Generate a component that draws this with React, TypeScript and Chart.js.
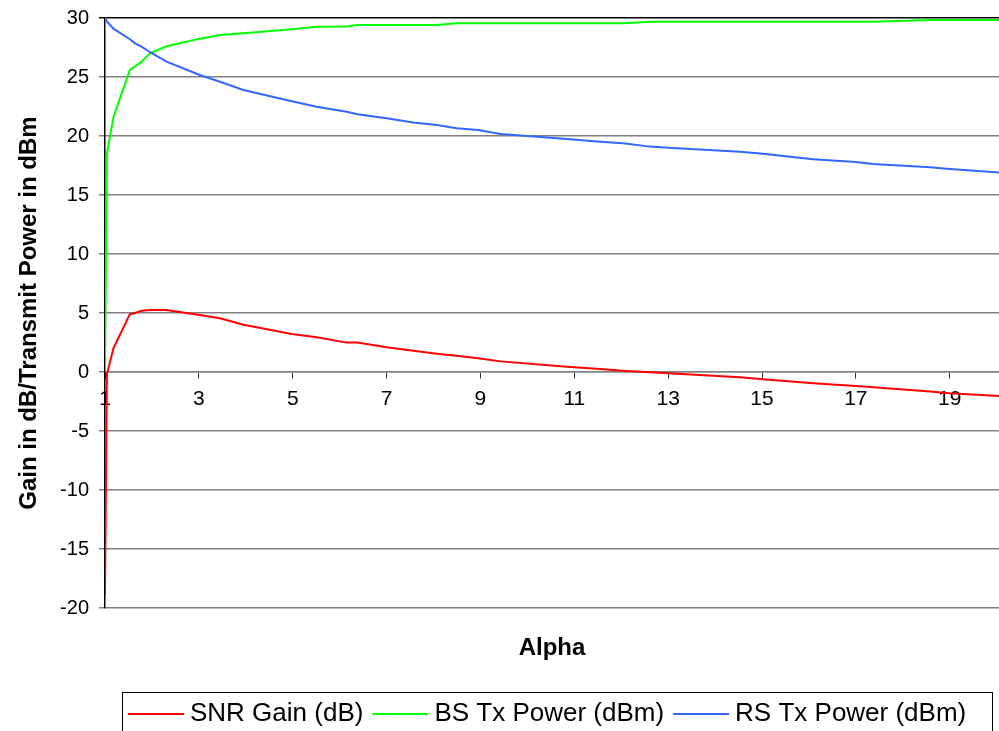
import React, { useEffect, useRef } from 'react';
import { Chart, registerables } from 'chart.js';

Chart.register(...registerables);

// ---- data ----
const alpha = [1.0, 1.04, 1.18, 1.53, 1.64, 1.78, 1.96, 2.31, 3.02, 3.45, 3.95, 4.98, 5.51, 6.15, 6.38, 7.0, 7.57, 8.07, 8.49, 8.95, 9.43, 10.84, 11.55, 12.04, 12.61, 13.0, 14.53, 15.02, 16.09, 17.0, 17.37, 18.58, 19.0, 20.05];
const snrGain = [-18.9, -0.2, 2.0, 4.9, 5.0, 5.2, 5.25, 5.25, 4.83, 4.55, 4.0, 3.22, 2.95, 2.49, 2.49, 2.09, 1.8, 1.55, 1.38, 1.16, 0.9, 0.45, 0.25, 0.1, -0.02, -0.11, -0.45, -0.62, -0.95, -1.19, -1.3, -1.65, -1.8, -2.03];
const bsTxPower = [0, 18.5, 21.6, 25.6, 25.9, 26.3, 27.0, 27.6, 28.25, 28.55, 28.7, 29.05, 29.25, 29.27, 29.4, 29.4, 29.4, 29.4, 29.55, 29.55, 29.55, 29.55, 29.55, 29.55, 29.69, 29.69, 29.69, 29.69, 29.69, 29.69, 29.69, 29.83, 29.83, 29.83];
const rsTxPower = [30, 29.7, 29.1, 28.2, 27.85, 27.57, 27.1, 26.3, 25.17, 24.6, 23.9, 22.95, 22.48, 22.05, 21.85, 21.5, 21.15, 20.93, 20.65, 20.5, 20.17, 19.75, 19.52, 19.38, 19.1, 19.0, 18.67, 18.5, 18.02, 17.8, 17.63, 17.35, 17.2, 16.9];

const seriesLabels = ['SNR Gain (dB)', 'BS Tx Power (dBm)', 'RS Tx Power (dBm)'];
const seriesColors = ['#ff0000', '#00ff00', '#3366ff'];
const seriesValues = [snrGain, bsTxPower, rsTxPower];

const xTickValues = [1, 3, 5, 7, 9, 11, 13, 15, 17, 19];
const xMin = 1;
const xMax = 20.05;
const yMin = -20;
const yMax = 30;
const yStep = 5;

const xTitle = 'Alpha';
const yTitle = 'Gain in dB/Transmit Power in dBm';

const FONT = '"Liberation Sans", Arial, Helvetica, sans-serif';

const decorPlugin = {
  id: 'decor',
  afterDraw(chart: any) {
    const { ctx, chartArea } = chart;
    ctx.save();
    // x axis title
    ctx.fillStyle = '#000';
    ctx.font = `bold 24px ${FONT}`;
    ctx.textAlign = 'center';
    ctx.textBaseline = 'middle';
    ctx.fillText(xTitle, (chartArea.left + chartArea.right) / 2, 648);

    // legend with border
    const boxLeft = 122;
    const boxTop = 692;
    const boxRight = 992;
    ctx.strokeStyle = '#000';
    ctx.lineWidth = 1;
    ctx.strokeRect(boxLeft + 0.5, boxTop + 0.5, boxRight - boxLeft, 60);
    ctx.font = `26px ${FONT}`;
    ctx.textAlign = 'left';
    const cy = 714;
    let x = 128;
    chart.data.datasets.forEach((ds: any) => {
      ctx.strokeStyle = ds.borderColor;
      ctx.lineWidth = 2;
      ctx.beginPath();
      ctx.moveTo(x, cy);
      ctx.lineTo(x + 56, cy);
      ctx.stroke();
      x += 62;
      ctx.fillStyle = '#000';
      ctx.fillText(ds.label, x, cy);
      x += ctx.measureText(ds.label).width + 9;
    });
    ctx.restore();
  },
};

export default function App() {
  const ref = useRef<HTMLCanvasElement | null>(null);

  useEffect(() => {
    if (!ref.current) return;
    const chart = new Chart(ref.current, {
      type: 'line',
      data: {
        datasets: seriesLabels.map((label, i) => ({
          label,
          data: alpha.map((a, j) => ({ x: a, y: seriesValues[i][j] })),
          borderColor: seriesColors[i],
          backgroundColor: seriesColors[i],
          borderWidth: 2,
          pointRadius: 0,
          tension: 0,
          fill: false,
          order: 2 - i,
        })),
      },
      options: {
        animation: false,
        responsive: false,
        devicePixelRatio: 1,
        layout: { padding: { top: 18, right: 0, bottom: 123, left: 0 } },
        plugins: {
          legend: { display: false },
          tooltip: { enabled: false },
          title: { display: false },
        },
        scales: {
          x: {
            type: 'linear',
            position: { y: 0 },
            min: xMin,
            max: xMax,
            afterBuildTicks: (scale: any) => {
              scale.ticks = xTickValues.map((v) => ({ value: v }));
            },
            afterFit: (scale: any) => {
              scale.paddingLeft = 0;
              scale.paddingRight = 0;
            },
            grid: {
              display: true,
              drawOnChartArea: false,
              drawTicks: true,
              tickLength: 6,
              color: '#333333',
              lineWidth: 1,
            },
            border: { display: true, color: '#808080', width: 1.5 },
            ticks: {
              autoSkip: false,
              maxRotation: 0,
              padding: 9,
              color: '#000',
              font: { family: FONT, size: 21 },
              callback: (v: any) => String(v),
            },
          },
          y: {
            type: 'linear',
            min: yMin,
            max: yMax,
            afterFit: (scale: any) => {
              scale.width = 105;
              scale.paddingTop = 0;
              scale.paddingBottom = 0;
            },
            ticks: {
              stepSize: yStep,
              padding: 10,
              color: '#000',
              font: { family: FONT, size: 20 },
            },
            grid: {
              color: (c: any) => (c.tick && c.tick.value === yMax ? '#000000' : '#808080'),
              lineWidth: 1.5,
              tickLength: 6,
              drawTicks: true,
            },
            border: { display: true, color: '#000', width: 1.5 },
            title: {
              display: true,
              text: yTitle,
              color: '#000',
              font: { family: FONT, size: 24, weight: 'bold' },
              padding: { top: 15, bottom: 0 },
            },
          },
        },
      },
      plugins: [decorPlugin],
    });
    return () => chart.destroy();
  }, []);

  return (
    <div style={{ position: 'absolute', left: 0, top: 0, width: 999, height: 731, background: '#fff' }}>
      <canvas ref={ref} width={999} height={731} style={{ display: 'block' }} />
    </div>
  );
}
